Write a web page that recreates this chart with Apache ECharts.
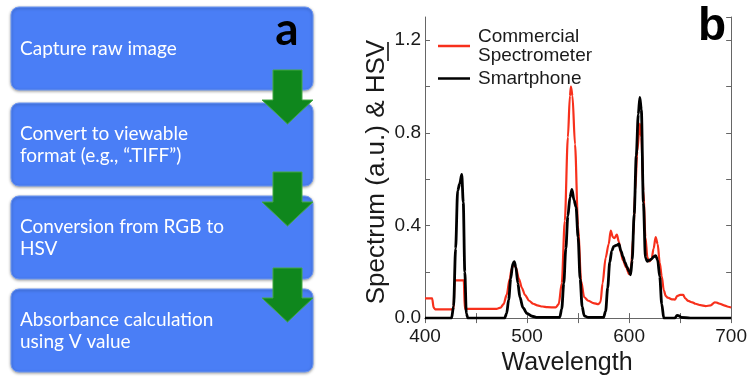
<!DOCTYPE html>
<html>
<head>
<meta charset="utf-8">
<script src="https://cdn.jsdelivr.net/npm/echarts@6/dist/echarts.min.js"></script>
<style>
  html, body { margin: 0; padding: 0; background: #fff; }
  #chart { width: 750px; height: 381px; }
</style>
</head>
<body>
<div id="chart"></div>
<script>
// Spectrum of the light source: commercial spectrometer (a.u.)
const spectrometerNm = [400, 407, 408.5, 410, 428, 429, 438, 439, 470, 474, 477, 480, 483, 485, 487, 489, 492, 495, 498, 502, 506, 510, 515, 520, 528, 531, 534, 537, 540, 542, 543, 544.5, 547, 550, 553, 556, 560, 565, 570, 572, 574, 577, 580, 582, 584, 585.5, 588, 590, 592, 594, 597, 600, 602, 604, 606, 608, 610.5, 612, 614, 616, 618, 620, 622, 624, 626, 628, 630, 632, 634, 636, 638, 642, 645, 647, 650, 653, 655, 658, 662, 665, 670, 675, 680, 684, 686, 688, 690, 693, 697, 700];
const spectrometerVal = [0.085, 0.085, 0.045, 0.038, 0.038, 0.163, 0.163, 0.040, 0.040, 0.045, 0.060, 0.100, 0.170, 0.215, 0.232, 0.220, 0.170, 0.130, 0.100, 0.075, 0.062, 0.055, 0.050, 0.047, 0.046, 0.060, 0.150, 0.420, 0.780, 0.960, 1.000, 0.960, 0.750, 0.400, 0.160, 0.090, 0.075, 0.065, 0.060, 0.070, 0.150, 0.260, 0.320, 0.378, 0.350, 0.345, 0.360, 0.330, 0.280, 0.250, 0.220, 0.190, 0.220, 0.350, 0.550, 0.720, 0.840, 0.780, 0.550, 0.350, 0.260, 0.245, 0.255, 0.300, 0.350, 0.320, 0.240, 0.180, 0.120, 0.095, 0.088, 0.081, 0.080, 0.095, 0.100, 0.100, 0.085, 0.074, 0.068, 0.062, 0.056, 0.052, 0.055, 0.068, 0.067, 0.063, 0.060, 0.055, 0.049, 0.046];

// Smartphone HSV value (V channel)
const smartphoneNm = [400, 426, 428, 430, 432, 434, 436, 437.5, 439, 440.5, 442, 478, 480, 482, 484, 486, 487.5, 489, 491, 493, 496, 500, 505, 510, 532, 534, 536, 538, 540, 542, 544, 546, 548, 550, 552, 554, 556, 560, 575, 577, 579, 581, 583, 585, 588, 590, 592, 594, 596, 598, 600, 601.5, 603, 605, 607, 609, 610.5, 612, 614, 616, 618, 620, 622, 624, 626, 628, 630, 632, 634, 645, 647, 649, 651, 660, 700];
const smartphoneVal = [0, 0, 0.05, 0.30, 0.55, 0.58, 0.62, 0.50, 0.20, 0.02, 0, 0, 0.02, 0.08, 0.17, 0.235, 0.244, 0.22, 0.15, 0.09, 0.045, 0.02, 0.008, 0.003, 0.003, 0.04, 0.15, 0.30, 0.44, 0.52, 0.556, 0.51, 0.48, 0.35, 0.17, 0.05, 0.01, 0.003, 0.003, 0.03, 0.13, 0.24, 0.29, 0.31, 0.315, 0.32, 0.29, 0.265, 0.24, 0.22, 0.20, 0.187, 0.25, 0.45, 0.70, 0.88, 0.953, 0.90, 0.50, 0.26, 0.245, 0.25, 0.255, 0.265, 0.27, 0.25, 0.18, 0.06, 0, 0, 0.012, 0.01, 0.003, 0, 0];

const seriesNames = ['Commercial\nSpectrometer', 'Smartphone'];
const xTicks = [400, 500, 600, 700];
const yTicks = ['0.0', '0.4', '0.8', '1.2'];

// Processing steps of the smartphone workflow
const steps = [
  'Capture raw image',
  'Convert to viewable\nformat (e.g., \u201C.TIFF\u201D)',
  'Conversion from RGB to\nHSV',
  'Absorbance calculation\nusing V value'
];

const chart = echarts.init(document.getElementById('chart'));

const pair = (xs, ys) => xs.map((x, i) => [x, ys[i]]);

// Flowchart boxes and arrows
const boxTops = [7, 103, 196, 289];
const boxH = 83;
const arrowTops = [70, 172, 268];
const graphics = [];
steps.forEach((t, i) => {
  graphics.push({
    type: 'rect', z: 1,
    shape: { x: 11, y: boxTops[i], width: 302, height: boxH, r: 8 },
    style: { fill: '#4a7ef6', stroke: '#6f99f3', lineWidth: 1,
             shadowBlur: 3, shadowOffsetY: 1, shadowColor: 'rgba(0,0,0,0.35)' }
  });
  graphics.push({
    type: 'text', z: 3,
    style: { text: t, x: 20, y: boxTops[i] + 42, fill: '#ffffff',
             font: '19px Lato', lineHeight: 22, verticalAlign: 'middle', align: 'left' }
  });
});
arrowTops.forEach(y0 => {
  graphics.push({
    type: 'polygon', z: 4,
    shape: { points: [[273, y0], [302, y0], [302, y0 + 30], [313, y0 + 30], [287.5, y0 + 54], [262, y0 + 30], [273, y0 + 30]] },
    style: { fill: '#0f871d', stroke: '#45a845', lineWidth: 1 }
  });
});
graphics.push({
  type: 'text', z: 5,
  style: { text: 'a', x: 287, y: 30, fill: '#000', font: 'bold 46px Lato', align: 'center', verticalAlign: 'middle' }
});
graphics.push({
  type: 'text', z: 5,
  style: { text: 'b', x: 712, y: 27, fill: '#000', font: 'bold 46px "Liberation Sans"', align: 'center', verticalAlign: 'middle' }
});
// underline under the V of the rotated y-axis title
graphics.push({
  type: 'line', z: 5,
  shape: { x1: 388, y1: 42, x2: 388, y2: 61 },
  style: { stroke: '#000', lineWidth: 1.5 }
});

const fmtX = v => (xTicks.indexOf(v) >= 0 ? String(v) : '');
const fmtY = v => {
  const s = v.toFixed(1);
  return yTicks.indexOf(s) >= 0 && Math.abs(v / 0.4 - Math.round(v / 0.4)) < 1e-6 ? s : '';
};

const axisLine = { show: true, lineStyle: { color: '#666', width: 1 } };
const axisTick = { show: true, inside: true, length: 5, lineStyle: { color: '#666', width: 1 } };
const labelStyle = { color: '#1a1a1a', fontSize: 19, fontFamily: 'Liberation Sans' };

chart.setOption({
  animation: false,
  backgroundColor: '#ffffff',
  graphic: graphics,
  grid: { left: 425, right: 17, top: 17, bottom: 57, containLabel: false },
  legend: {
    orient: 'vertical', left: 433, top: 22, itemGap: 4,
    icon: 'rect', itemWidth: 32, itemHeight: 2.5,
    textStyle: { fontSize: 19, fontFamily: 'Liberation Sans', color: '#1a1a1a', lineHeight: 19, padding: [0, 0, 0, 3] },
    data: seriesNames
  },
  xAxis: [
    {
      type: 'value', position: 'bottom', min: 400, max: 700, interval: 50,
      axisLine, axisTick, splitLine: { show: false },
      axisLabel: Object.assign({ margin: 9, formatter: fmtX, showMinLabel: true, showMaxLabel: true }, labelStyle),
      name: 'Wavelength', nameLocation: 'middle', nameGap: 28,
      nameTextStyle: { fontSize: 25, fontFamily: 'Liberation Sans', color: '#1a1a1a', padding: [0, 22, 0, 0] }
    },
    {
      type: 'value', position: 'top', min: 400, max: 700, interval: 50,
      axisLine, axisTick, splitLine: { show: false }, axisLabel: { show: false }
    }
  ],
  yAxis: [
    {
      type: 'value', position: 'left', min: 0, max: 1.3, interval: 0.2,
      axisLine, axisTick, splitLine: { show: false },
      axisLabel: Object.assign({ margin: 4, formatter: fmtY, showMaxLabel: false }, labelStyle),
      name: 'Spectrum (a.u.) & HSV', nameLocation: 'middle', nameGap: 35, nameRotate: 90,
      nameTextStyle: { fontSize: 26, fontFamily: 'Liberation Sans', color: '#1a1a1a', padding: [0, 9, 0, 0] }
    },
    {
      type: 'value', position: 'right', min: 0, max: 1.3, interval: 0.2,
      axisLine, axisTick, splitLine: { show: false }, axisLabel: { show: false }
    }
  ],
  series: [
    {
      name: seriesNames[0], type: 'line', data: pair(spectrometerNm, spectrometerVal),
      showSymbol: false, symbol: 'none', smooth: 0.3, smoothMonotone: 'x',
      lineStyle: { color: '#f7301c', width: 2.2 }, itemStyle: { color: '#f7301c' }, z: 2
    },
    {
      name: seriesNames[1], type: 'line', data: pair(smartphoneNm, smartphoneVal),
      showSymbol: false, symbol: 'none', smooth: 0.3, smoothMonotone: 'x',
      lineStyle: { color: '#000000', width: 2.8 }, itemStyle: { color: '#000000' }, z: 3
    }
  ]
});
</script>
</body>
</html>
